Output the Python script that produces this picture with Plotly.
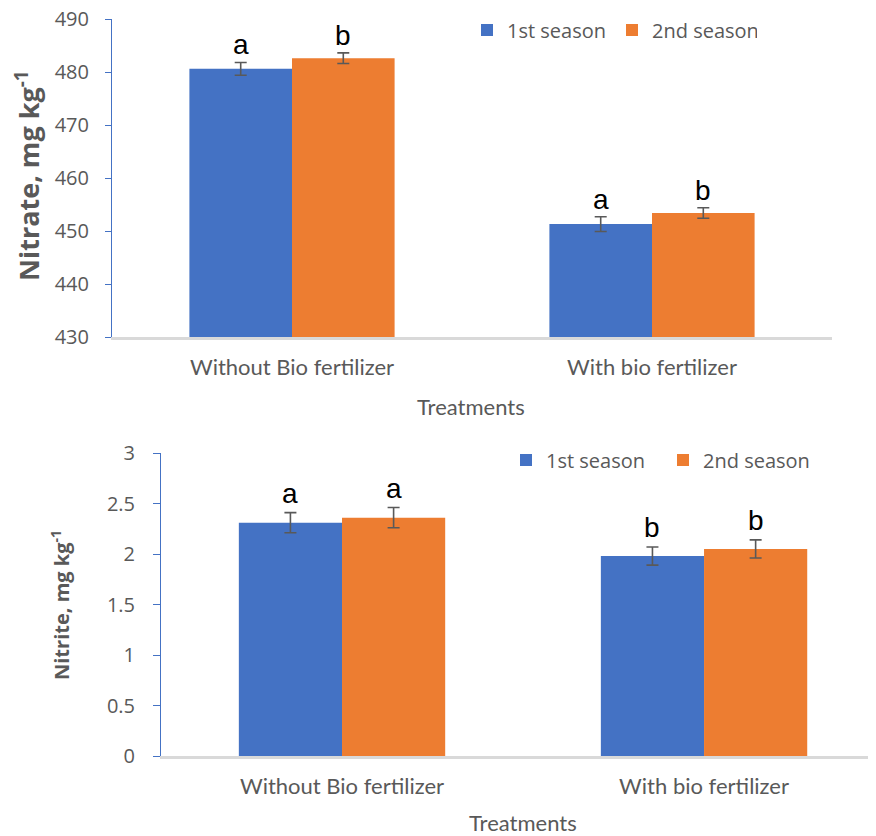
import plotly.graph_objects as go

# ---------------- data ----------------
treatments = ["Without Bio fertilizer", "With bio fertilizer"]
seasons = ["1st season", "2nd season"]

nitrate_s1 = [480.6, 451.3]
nitrate_s2 = [482.6, 453.4]
nitrate_err_s1 = [1.2, 1.4]
nitrate_err_s2 = [1.0, 1.0]
nitrate_letters_s1 = ["a", "a"]
nitrate_letters_s2 = ["b", "b"]

nitrite_s1 = [2.31, 1.98]
nitrite_s2 = [2.36, 2.05]
nitrite_err_s1 = [0.10, 0.09]
nitrite_err_s2 = [0.10, 0.09]
nitrite_letters_s1 = ["a", "b"]
nitrite_letters_s2 = ["a", "b"]

nitrate_ticks = [430, 440, 450, 460, 470, 480, 490]
nitrite_ticks = [0, 0.5, 1, 1.5, 2, 2.5, 3]
nitrite_ticktext = ["0", "0.5", "1", "1.5", "2", "2.5", "3"]

# ---------------- style ----------------
BLUE = "#4472C4"
ORANGE = "#ED7D31"
GREY = "#595959"
PAGE_OFF = 8                      # default body margin of the html page
W, H = 876 - PAGE_OFF, 836 - PAGE_OFF
BARGAP = 0.43
TICKFONT = dict(family="Open Sans", size=20, color=GREY)
CATFONT = dict(family="Lato", size=22, color=GREY)
LETTERFONT = dict(family="Liberation Sans", size=28, color="#000000")
LEGFONT = dict(family="Open Sans", size=20, color=GREY)


def xp(px):
    """page pixel x -> paper fraction"""
    return (px - PAGE_OFF) / W


def yp(py):
    """page pixel y -> paper fraction"""
    return 1 - (py - PAGE_OFF) / H


fig = go.Figure()
xi = list(range(len(treatments)))


def add_bars(vals, errs, name, color, xa, ya, legend):
    fig.add_trace(go.Bar(
        x=xi, y=vals, name=name, marker=dict(color=color, line=dict(width=0)),
        error_y=dict(type="data", array=errs, visible=True, color=GREY,
                     thickness=1.6, width=6),
        xaxis=xa, yaxis=ya, legend=legend,
    ))


add_bars(nitrate_s1, nitrate_err_s1, seasons[0], BLUE, "x", "y", "legend")
add_bars(nitrate_s2, nitrate_err_s2, seasons[1], ORANGE, "x", "y", "legend")
add_bars(nitrite_s1, nitrite_err_s1, seasons[0], BLUE, "x2", "y2", "legend2")
add_bars(nitrite_s2, nitrite_err_s2, seasons[1], ORANGE, "x2", "y2", "legend2")

# significance letters above error bars
off = (1 - BARGAP) / 4
annots = []


def add_letters(vals, errs, letters, sign, xref, yref, shift):
    for i, (v, e, t) in enumerate(zip(vals, errs, letters)):
        annots.append(dict(x=i + sign * off, y=v + e, xref=xref, yref=yref,
                           text=t, showarrow=False, yanchor="bottom",
                           yshift=shift, font=LETTERFONT))


add_letters(nitrate_s1, nitrate_err_s1, nitrate_letters_s1, -1, "x", "y", 0)
add_letters(nitrate_s2, nitrate_err_s2, nitrate_letters_s2, +1, "x", "y", 0)
add_letters(nitrite_s1, nitrite_err_s1, nitrite_letters_s1, -1, "x2", "y2", 2)
add_letters(nitrite_s2, nitrite_err_s2, nitrite_letters_s2, +1, "x2", "y2", 2)

# axis titles as annotations
annots.append(dict(x=xp(27), y=yp(176), xref="paper", yref="paper",
                   text="<b>Nitrate, mg kg<sup>-1</sup></b>", textangle=-90,
                   showarrow=False, xanchor="center", yanchor="middle",
                   font=dict(family="Open Sans", size=27, color=GREY)))
annots.append(dict(x=xp(60), y=yp(605), xref="paper", yref="paper",
                   text="<b>Nitrite, mg kg<sup>-1</sup></b>", textangle=-90,
                   showarrow=False, xanchor="center", yanchor="middle",
                   font=dict(family="Open Sans", size=20, color=GREY)))
annots.append(dict(x=xp(471), y=yp(406), xref="paper", yref="paper",
                   text="Treatments", showarrow=False,
                   xanchor="center", yanchor="middle", font=CATFONT))
annots.append(dict(x=xp(523), y=yp(822), xref="paper", yref="paper",
                   text="Treatments", showarrow=False,
                   xanchor="center", yanchor="middle", font=CATFONT))

xcommon = dict(tickmode="array", tickvals=xi, ticktext=treatments,
               showline=True, linecolor="#D9D9D9", linewidth=2.5,
               showgrid=False, zeroline=False, ticks="", tickfont=CATFONT,
               ticklabelstandoff=9, automargin=False, ticklabeloverflow="allow")
ycommon = dict(showline=True, linecolor=BLUE, linewidth=1, showgrid=False,
               zeroline=False, ticks="outside", tickcolor=BLUE, tickwidth=1,
               tickfont=TICKFONT, automargin=False, ticklabeloverflow="allow")

fig.update_layout(
    width=W, height=H, margin=dict(l=0, r=0, t=0, b=0, pad=0),
    paper_bgcolor="white", plot_bgcolor="white",
    barmode="group", bargap=BARGAP, bargroupgap=0,
    xaxis=dict(domain=[xp(112), xp(832)], range=[-0.5, 1.5], anchor="y", **xcommon),
    yaxis=dict(domain=[yp(337), yp(19)], range=[430, 490], anchor="x",
               tickvals=nitrate_ticks, ticklen=6, ticklabelstandoff=12, **ycommon),
    xaxis2=dict(domain=[xp(161), 1.0], range=[-0.5, 1.475], anchor="y2", **xcommon),
    yaxis2=dict(domain=[yp(756), yp(453)], range=[0, 3], anchor="x2",
                tickvals=nitrite_ticks, ticktext=nitrite_ticktext, ticklen=7,
                ticklabelstandoff=14, **ycommon),
    legend=dict(orientation="h", x=xp(467), y=yp(30), xanchor="left",
                yanchor="middle", font=LEGFONT, entrywidth=100,
                bgcolor="rgba(0,0,0,0)", itemclick=False, itemdoubleclick=False),
    legend2=dict(orientation="h", x=xp(506), y=yp(460), xanchor="left",
                 yanchor="middle", font=LEGFONT, entrywidth=112,
                 bgcolor="rgba(0,0,0,0)", itemclick=False, itemdoubleclick=False),
    annotations=annots,
    showlegend=True,
)

fig.write_html("out.html")
